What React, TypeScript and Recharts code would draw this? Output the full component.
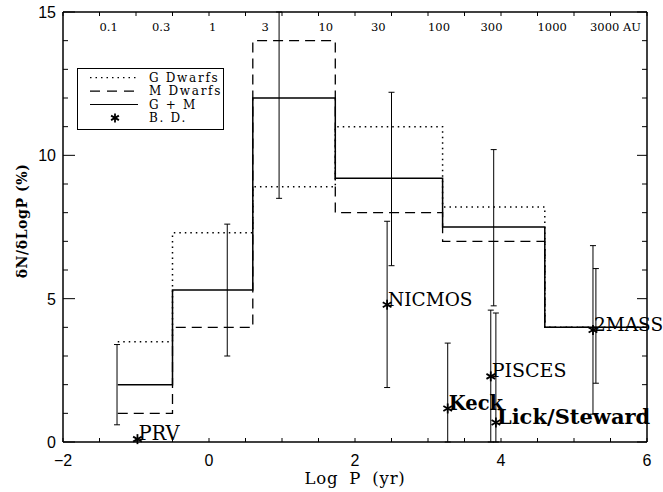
import React from "react";
import { ComposedChart, ErrorBar, Legend, Line, Scatter, XAxis, YAxis } from "recharts";

// histogram bins (log P edges) and companion fractions per bin (%)
const binEdges = [-1.25, -0.5, 0.6, 1.73, 3.2, 4.6, 6.0];
const gDwarfs = [3.5, 7.3, 8.9, 11.0, 8.2, 4.0];
const mDwarfs = [1.0, 4.0, 14.0, 8.0, 7.0, 4.0];
const gPlusM = [2.0, 5.3, 12.0, 9.2, 7.5, 4.0];

// G + M error bars (bar position, lower end, upper end; ends kept inside the frame)
const gmErrX = [-1.26, 0.25, 0.96, 2.5, 3.9, 5.3];
const gmErrLow = [0.6, 3.0, 8.5, 6.15, 4.75, 2.05];
const gmErrHigh = [3.4, 7.6, 15, 12.2, 10.2, 6.05];

// brown dwarf survey points
const bdNames = ["PRV", "NICMOS", "Keck", "PISCES", "Lick/Steward", "2MASS"];
const bdX = [-0.98, 2.44, 3.27, 3.86, 3.93, 5.26];
const bdY = [0.1, 4.79, 1.17, 2.29, 0.68, 3.91];
const bdErrLow = [null, 1.9, 0, 0, 0, 0.97];
const bdErrHigh = [null, 7.7, 3.45, 4.6, 4.5, 6.85];

// axis ticks
const xTicks = [-2, -1.5, -1, -0.5, 0, 0.5, 1, 1.5, 2, 2.5, 3, 3.5, 4, 4.5, 5, 5.5, 6];
const xTickLabels = [-2, 0, 2, 4, 6];
const yTicks = [0, 1, 2, 3, 4, 5, 6, 7, 8, 9, 10, 11, 12, 13, 14, 15];
const yTickLabels = [0, 5, 10, 15];
const auTicks = [-1.5, -0.78, 0, 0.72, 1.5, 2.22, 3, 3.72, 4.5, 5.22];
const auLabels = ["0.1", "0.3", "1", "3", "10", "30", "100", "300", "1000", "3000 AU"];

const stepData = binEdges.map((x, i) => {
	const k = Math.min(i, gPlusM.length - 1);
	return { x, g: gDwarfs[k], m: mDwarfs[k], gm: gPlusM[k] };
});

const gmErrData = gmErrX.map((x, i) => {
	const y = (gmErrLow[i] + gmErrHigh[i]) / 2;
	return { x, y, err: [y - gmErrLow[i], gmErrHigh[i] - y] };
});

const bdData = bdNames.map((name, i) => {
	const lo = bdErrLow[i];
	const hi = bdErrHigh[i];
	return {
		name,
		x: bdX[i],
		y: bdY[i],
		err: lo === null || hi === null ? null : [bdY[i] - lo, hi - bdY[i]],
	};
});

const topTicks = Array.from(new Set([...xTicks, ...auTicks])).sort((a, b) => a - b);

const bdLabelStyle: Record<string, { bold: boolean; size: number; dy: number }> = {
	PRV: { bold: false, size: 19.5, dy: 1 },
	NICMOS: { bold: false, size: 18.5, dy: 1 },
	Keck: { bold: true, size: 19.5, dy: 2 },
	PISCES: { bold: false, size: 19, dy: 1 },
	"Lick/Steward": { bold: true, size: 21, dy: 1 },
	"2MASS": { bold: false, size: 18.5, dy: 1 },
};

const SERIF = "'DejaVu Serif', serif";
const SANS = "'Liberation Sans', Arial, sans-serif";
const DOTS = "1.5 4";
const DASHES = "10 6";

function Asterisk({ cx, cy, r = 5 }: { cx: number; cy: number; r?: number }) {
	const dx = r * 0.87;
	const dy = r * 0.5;
	return (
		<g stroke="#000" strokeWidth={1.8}>
			<line x1={cx} y1={cy - r} x2={cx} y2={cy + r} />
			<line x1={cx - dx} y1={cy - dy} x2={cx + dx} y2={cy + dy} />
			<line x1={cx - dx} y1={cy + dy} x2={cx + dx} y2={cy - dy} />
		</g>
	);
}

function BdShape(props: any) {
	const { cx, cy, payload } = props;
	const st = bdLabelStyle[payload.name];
	return (
		<g>
			<Asterisk cx={cx} cy={cy} />
			<text
				x={cx + 1}
				y={cy + st.dy}
				fontFamily={SERIF}
				fontSize={st.size}
				fontWeight={st.bold ? "bold" : "normal"}
				fill="#000"
			>
				{payload.name}
			</text>
		</g>
	);
}

function BottomTick(props: any) {
	const { x, y, payload } = props;
	const v = payload.value;
	return (
		<g>
			<line x1={x} x2={x} y1={y} y2={y - 4} stroke="#000" />
			{xTickLabels.includes(v) && (
				<text x={x} y={y + 24} textAnchor="middle" fontFamily={SANS} fontSize={16} fill="#000">
					{v < 0 ? `\u2212${Math.abs(v)}` : v}
				</text>
			)}
		</g>
	);
}

function TopTick(props: any) {
	const { x, y, payload } = props;
	const v = payload.value;
	const i = auTicks.indexOf(v);
	return (
		<g>
			{xTicks.includes(v) && <line x1={x} x2={x} y1={y} y2={y + 4} stroke="#000" />}
			{i >= 0 && (
				<text x={x} y={y + 19} textAnchor="start" fontFamily={SERIF} fontSize={11.5} fill="#000">
					{auLabels[i]}
				</text>
			)}
		</g>
	);
}

function LeftTick(props: any) {
	const { x, y, payload } = props;
	const v = payload.value;
	const major = v % 5 === 0;
	return (
		<g>
			<line x1={x} x2={x + (major ? 12 : 5)} y1={y} y2={y} stroke="#000" />
			{yTickLabels.includes(v) && (
				<text x={x - 7} y={y + 6} textAnchor="end" fontFamily={SANS} fontSize={16} fill="#000">
					{v}
				</text>
			)}
		</g>
	);
}

function RightTick(props: any) {
	const { x, y, payload } = props;
	const major = payload.value % 5 === 0;
	return <line x1={x} x2={x - (major ? 10 : 5)} y1={y} y2={y} stroke="#000" />;
}

function LegendBox() {
	const rows = [9.7, 23.1, 36.5, 49.9];
	const textStyle = { fontFamily: SERIF, fontSize: 12, letterSpacing: 1.7 };
	return (
		<svg width={147} height={62} style={{ display: "block" }}>
			<rect x={0.5} y={0.5} width={146} height={61} fill="#fff" stroke="#000" />
			<line x1={13} x2={61} y1={rows[0]} y2={rows[0]} stroke="#000" strokeWidth={1.2} strokeDasharray="1.5 4" />
			<line x1={13} x2={61} y1={rows[1]} y2={rows[1]} stroke="#000" strokeWidth={1.2} strokeDasharray="10 7" />
			<line x1={13} x2={61} y1={rows[2]} y2={rows[2]} stroke="#000" strokeWidth={1.2} />
			<Asterisk cx={38} cy={rows[3]} r={4.5} />
			{["G Dwarfs", "M Dwarfs", "G + M", "B. D."].map((t, i) => (
				<text key={t} x={72} y={rows[i] + 4.3} {...textStyle} fill="#000">
					{t}
				</text>
			))}
		</svg>
	);
}

export default function App() {
	return (
		<div style={{ position: "absolute", left: 0, top: 0, background: "#fff" }}>
			<ComposedChart width={663} height={492} margin={{ top: 0, right: 0, bottom: 0, left: 0 }}>
				<XAxis
					xAxisId="b"
					dataKey="x"
					type="number"
					domain={[-2, 6]}
					allowDataOverflow
					ticks={xTicks}
					interval={0}
					tickSize={0}
					tickMargin={0}
					tickLine={false}
					tick={BottomTick}
					height={50}
					axisLine={{ stroke: "#000", strokeWidth: 1.5 }}
					label={{
						value: "Log P (yr)",
						content: (p: any) => (
							<text
								x={p.viewBox.x + p.viewBox.width / 2}
								y={p.viewBox.y + 42}
								textAnchor="middle"
								fontFamily={SERIF}
								fontSize={16.5}
								letterSpacing={0.8}
								wordSpacing={5}
								fill="#000"
							>
								Log P (yr)
							</text>
						),
					}}
				/>
				<XAxis
					xAxisId="t"
					orientation="top"
					dataKey="x"
					type="number"
					domain={[-2, 6]}
					ticks={topTicks}
					interval={0}
					tickSize={0}
					tickMargin={0}
					tickLine={false}
					tick={TopTick}
					height={12}
					axisLine={{ stroke: "#000", strokeWidth: 1.5 }}
				/>
				<YAxis
					yAxisId="l"
					type="number"
					domain={[0, 15]}
					allowDataOverflow
					ticks={yTicks}
					interval={0}
					tickSize={0}
					tickMargin={0}
					tickLine={false}
					tick={LeftTick}
					width={63}
					axisLine={{ stroke: "#000", strokeWidth: 1.5 }}
					label={{
						value: "δN/δLogP (%)",
						content: (p: any) => {
							const cx = p.viewBox.x + 22;
							const cy = p.viewBox.y + p.viewBox.height / 2 - 6;
							return (
								<text
									x={cx}
									y={cy}
									transform={`rotate(-90 ${cx} ${cy})`}
									textAnchor="middle"
									dominantBaseline="central"
									fontFamily={SERIF}
									fontWeight="bold"
									fontSize={14}
									letterSpacing={0.6}
									fill="#000"
								>
									δN/δLogP (%)
								</text>
							);
						},
					}}
				/>
				<YAxis
					yAxisId="r"
					orientation="right"
					dataKey="y"
					type="number"
					domain={[0, 15]}
					ticks={yTicks}
					interval={0}
					tickSize={0}
					tickMargin={0}
					tickLine={false}
					tick={RightTick}
					width={16}
					axisLine={{ stroke: "#000", strokeWidth: 1.5 }}
				/>
				<Legend
					layout="vertical"
					align="center"
					verticalAlign="middle"
					content={LegendBox}
					wrapperStyle={{ position: "absolute", left: 77, top: 68, width: 147, height: 62 }}
				/>
				<Line
					xAxisId="b"
					yAxisId="l"
					data={stepData}
					dataKey="m"
					type="stepAfter"
					stroke="#000"
					strokeWidth={1.3}
					strokeDasharray={DASHES}
					dot={false}
					activeDot={false}
					isAnimationActive={false}
				/>
				<Line
					xAxisId="b"
					yAxisId="l"
					data={stepData}
					dataKey="g"
					type="stepAfter"
					stroke="#000"
					strokeWidth={1.5}
					strokeDasharray={DOTS}
					dot={false}
					activeDot={false}
					isAnimationActive={false}
				/>
				<Line
					xAxisId="b"
					yAxisId="l"
					data={stepData}
					dataKey="gm"
					type="stepAfter"
					stroke="#000"
					strokeWidth={1.5}
					dot={false}
					activeDot={false}
					isAnimationActive={false}
				/>
				<Scatter
					xAxisId="t"
					yAxisId="r"
					data={gmErrData}
					shape={() => <g />}
					isAnimationActive={false}
				>
					<ErrorBar dataKey="err" direction="y" width={3} stroke="#000" strokeWidth={1} isAnimationActive={false} />
				</Scatter>
				<Scatter xAxisId="t" yAxisId="r" data={bdData} shape={BdShape} isAnimationActive={false}>
					<ErrorBar dataKey="err" direction="y" width={3} stroke="#000" strokeWidth={1} isAnimationActive={false} />
				</Scatter>
			</ComposedChart>
		</div>
	);
}
